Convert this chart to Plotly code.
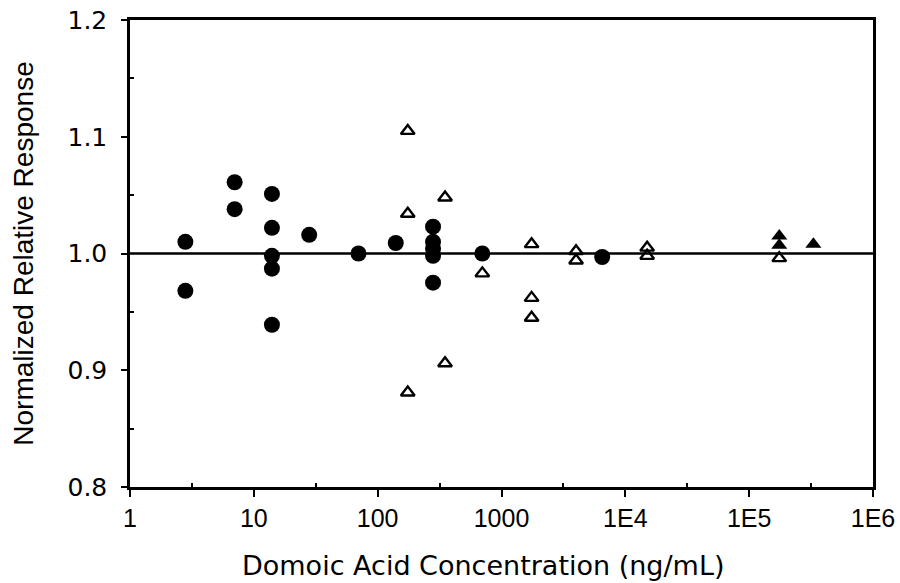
import plotly.graph_objects as go

# Filled circles
circle_x = [2.8, 2.8, 7, 7, 14, 14, 14, 14, 14, 28, 70, 140, 280, 280, 280, 280, 280, 700, 6500]
circle_y = [1.010, 0.968, 1.061, 1.038, 1.051, 1.022, 0.998, 0.987, 0.939, 1.016, 1.000, 1.009,
            1.023, 1.010, 1.004, 0.998, 0.975, 1.000, 0.997]

# Open triangles
tri_x = [175, 175, 175, 350, 350, 700, 1750, 1750, 1750, 4000, 4000, 15000, 15000, 175000]
tri_y = [1.105, 1.034, 0.881, 1.048, 0.906, 0.983, 1.008, 0.962, 0.945, 1.002, 0.994, 1.005, 0.998, 0.996]

# Filled triangles
ftri_x = [175000, 175000, 330000]
ftri_y = [1.015, 1.007, 1.008]

# Reference line
ref_x = [1, 1e6]
ref_y = [1.0, 1.0]

xtick_vals = [1, 10, 100, 1000, 1e4, 1e5, 1e6]
xtick_text = ["1", "10", "100", "1000", "1E4", "1E5", "1E6"]
xminor_vals = [3.162, 31.62, 316.2, 3162, 31620, 316200]
ytick_vals = [0.8, 0.9, 1.0, 1.1, 1.2]
ytick_text = ["0.8", "0.9", "1.0", "1.1", "1.2"]

x_title = "Domoic Acid Concentration (ng/mL)"
y_title = "Normalized Relative Response"

fig = go.Figure()
fig.add_trace(go.Scatter(x=ref_x, y=ref_y, mode="lines",
                         line=dict(color="black", width=2.5), showlegend=False))
fig.add_trace(go.Scatter(x=circle_x, y=circle_y, mode="markers",
                         marker=dict(symbol="circle", size=16, color="black"),
                         showlegend=False))
fig.add_trace(go.Scatter(x=tri_x, y=tri_y, mode="markers",
                         marker=dict(symbol="triangle-up-open", size=12, color="black",
                                     line=dict(width=2.4, color="black")),
                         showlegend=False))
fig.add_trace(go.Scatter(x=ftri_x, y=ftri_y, mode="markers",
                         marker=dict(symbol="triangle-up", size=14, color="black"),
                         showlegend=False))

fig.update_layout(
    width=900, height=583,
    margin=dict(l=130, r=27, t=20, b=96),
    paper_bgcolor="white", plot_bgcolor="white",
    font=dict(family="Liberation Sans, Arial", color="black"),
)
fig.add_annotation(text=x_title, xref="paper", yref="paper", x=0.475, y=-0.168,
                   xanchor="center", yanchor="middle", showarrow=False,
                   font=dict(family="DejaVu Sans", size=27, color="black"))
fig.update_xaxes(
    type="log", range=[0, 6],
    tickmode="array", tickvals=xtick_vals, ticktext=xtick_text,
    ticks="outside", ticklen=7, tickwidth=2, tickcolor="black",
    minor=dict(tickmode="array", tickvals=xminor_vals, ticks="inside", ticklen=4,
               tickwidth=1.5, tickcolor="black"),
    showline=True, linewidth=2.5, linecolor="black", mirror=True,
    showgrid=False, zeroline=False, automargin=False,
    tickfont=dict(family="Liberation Sans, Arial", size=25),
)
fig.update_yaxes(
    range=[0.8, 1.2],
    tickmode="array", tickvals=ytick_vals, ticktext=ytick_text,
    ticks="outside", ticklen=6, tickwidth=2, tickcolor="black",
    ticklabelstandoff=9,
    minor=dict(tickmode="array", tickvals=[0.85, 0.95, 1.05, 1.15], ticks="inside",
               ticklen=4, tickwidth=1.5, tickcolor="black"),
    showline=True, linewidth=2.5, linecolor="black", mirror=True,
    showgrid=False, zeroline=False, automargin=False,
    tickfont=dict(family="DejaVu Sans", size=25),
    title=dict(text=y_title,
               font=dict(family="Liberation Sans, Arial", size=28), standoff=26),
)

fig.write_html("out.html")
